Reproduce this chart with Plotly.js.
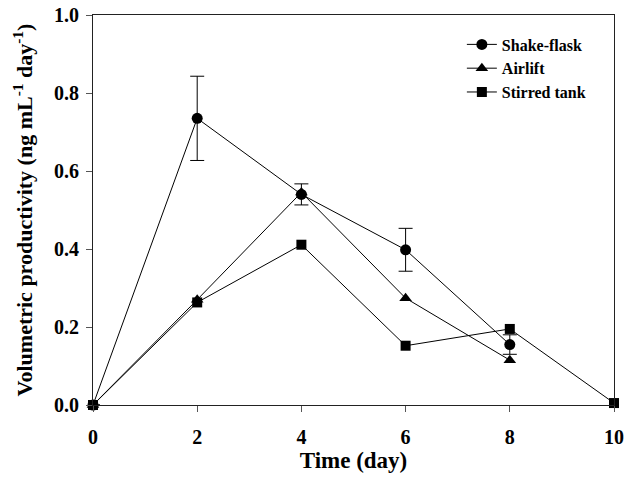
<!DOCTYPE html>
<html>
<head>
<meta charset="utf-8">
<script src="https://cdn.plot.ly/plotly-3.0.1.min.js"></script>
<style>html,body{margin:0;padding:0;background:#fff;}#chart{width:625px;height:492px;}</style>
</head>
<body>
<div id="chart"></div>
<script>
// Data
const shakeDays = [0, 2, 4, 6, 8];
const shakeVals = [0, 0.735, 0.540, 0.398, 0.155];
const shakeErr  = [0, 0.108, 0.027, 0.055, 0.025];

const airDays = [0, 2, 4, 6, 8];
const airVals = [0, 0.270, 0.545, 0.274, 0.115];

const stirDays = [0, 2, 4, 6, 8, 10];
const stirVals = [0, 0.263, 0.411, 0.152, 0.195, 0.005];

const xTicks = [0, 2, 4, 6, 8, 10];
const yTicks = [0, 0.2, 0.4, 0.6, 0.8, 1.0];

const FONT = 'Liberation Serif, Times New Roman, serif';

const common = {
  mode: 'lines+markers',
  line: {color: '#000', width: 1},
  cliponaxis: false
};

const traces = [
  Object.assign({}, common, {
    name: 'Shake-flask', x: shakeDays, y: shakeVals,
    marker: {symbol: 'circle', size: 11, color: '#000'},
    error_y: {type: 'data', array: shakeErr, visible: true, color: '#000', thickness: 1, width: 7}
  }),
  Object.assign({}, common, {
    name: 'Airlift', x: airDays, y: airVals,
    marker: {symbol: 'triangle-up', size: 11, color: '#000'}
  }),
  Object.assign({}, common, {
    name: 'Stirred tank', x: stirDays, y: stirVals,
    marker: {symbol: 'square', size: 10, color: '#000'}
  })
];

const layout = {
  width: 625, height: 492,
  margin: {l: 93, r: 11, t: 15, b: 87},
  paper_bgcolor: '#fff', plot_bgcolor: '#fff',
  font: {family: FONT, color: '#000', size: 16, weight: 'bold'},
  showlegend: true,
  legend: {
    x: 0.708, y: 0.968, xanchor: 'left', yanchor: 'top',
    font: {family: FONT, size: 16, weight: 'bold', color: '#000'},
    bgcolor: 'rgba(0,0,0,0)', tracegroupgap: 0
  },
  xaxis: {
    range: [0, 10], tickvals: xTicks, ticktext: xTicks.map(String),
    showgrid: false, zeroline: false,
    showline: true, linecolor: '#222', linewidth: 1, mirror: true,
    ticks: 'outside', ticklen: 6, tickcolor: '#555', tickwidth: 1,
    ticklabelstandoff: 8,
    tickfont: {family: FONT, size: 20, weight: 'bold'},
    title: {text: 'Time (day)', font: {family: FONT, size: 23, weight: 'bold'}, standoff: 4}
  },
  yaxis: {
    range: [0, 1], tickvals: yTicks, ticktext: yTicks.map(v => v.toFixed(1)),
    showgrid: false, zeroline: false,
    showline: true, linecolor: '#222', linewidth: 1, mirror: true,
    ticks: 'outside', ticklen: 6, tickcolor: '#555', tickwidth: 1,
    ticklabelstandoff: 3,
    tickfont: {family: FONT, size: 20, weight: 'bold'},
    title: {text: 'Volumetric productivity (ng mL<sup>-1</sup> day<sup>-1</sup>)', font: {family: FONT, size: 22, weight: 'bold'}, standoff: 15}
  }
};

Plotly.newPlot('chart', traces, layout, {displayModeBar: false, staticPlot: true});
</script>
</body>
</html>
